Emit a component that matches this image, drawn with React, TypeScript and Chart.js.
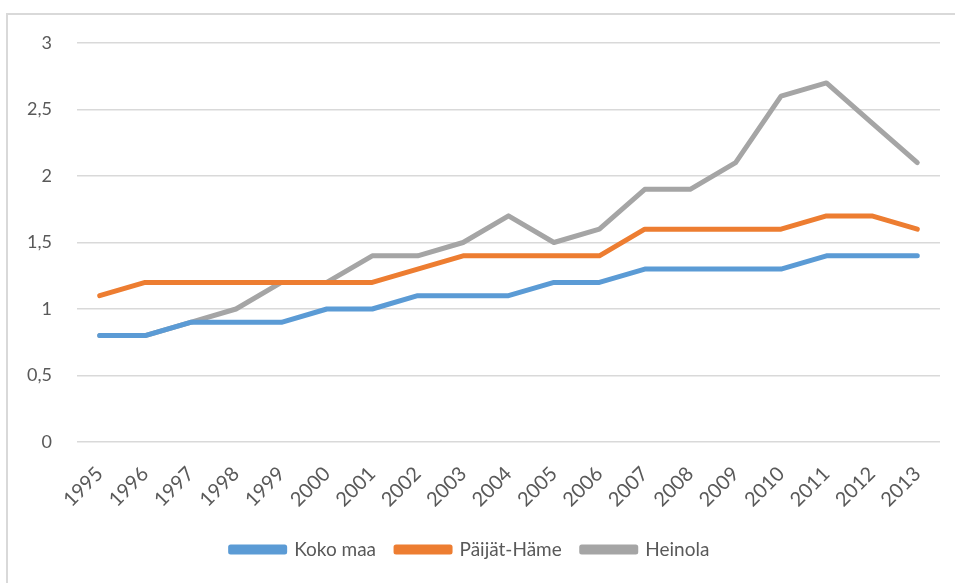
import React, { useEffect, useRef } from "react";
import { Chart, registerables } from "chart.js";

Chart.register(...registerables);

const years = ["1995","1996","1997","1998","1999","2000","2001","2002","2003","2004","2005","2006","2007","2008","2009","2010","2011","2012","2013"];
const kokoMaa = [0.8,0.8,0.9,0.9,0.9,1.0,1.0,1.1,1.1,1.1,1.2,1.2,1.3,1.3,1.3,1.3,1.4,1.4,1.4];
const paijatHame = [1.1,1.2,1.2,1.2,1.2,1.2,1.2,1.3,1.4,1.4,1.4,1.4,1.6,1.6,1.6,1.6,1.7,1.7,1.6];
const heinola = [0.8,0.8,0.9,1.0,1.2,1.2,1.4,1.4,1.5,1.7,1.5,1.6,1.9,1.9,2.1,2.6,2.7,2.4,2.1];
const seriesNames = ["Koko maa","Päijät-Häme","Heinola"];
const colors = ["#5B9BD5","#ED7D31","#A5A5A5"];

const FONT = "Lato, 'Open Sans', sans-serif";

export default function App() {
  const ref = useRef<HTMLCanvasElement | null>(null);
  useEffect(() => {
    document.body.style.margin = "0";
    const ctx = ref.current!;
    const mk = (label: string, data: number[], c: string) => ({
      label, data, borderColor: c, backgroundColor: c, borderWidth: 5,
      pointRadius: 0, borderCapStyle: "round" as const, borderJoinStyle: "round" as const,
      tension: 0,
    });
    const chart = new Chart(ctx, {
      type: "line",
      data: {
        labels: years,
        datasets: [
          mk(seriesNames[0], kokoMaa, colors[0]),
          mk(seriesNames[1], paijatHame, colors[1]),
          mk(seriesNames[2], heinola, colors[2]),
        ],
      },
      options: {
        animation: false,
        responsive: false,
        layout: { padding: { top: 43, right: 15, left: 0, bottom: 14 } },
        plugins: {
          tooltip: { enabled: false },
          legend: {
            position: "bottom",
            labels: {
              boxWidth: 54, boxHeight: 5, color: "#595959",
              font: { family: FONT, size: 19 }, padding: 20,
            },
          },
        },
        scales: {
          x: {
            offset: true,
            grid: { display: false },
            border: { display: false },
            ticks: {
              color: "#595959", font: { family: FONT, size: 20 },
              maxRotation: 45, minRotation: 45, autoSkip: false, padding: 12,
            },
            afterFit: (s: any) => { s.height = 78; },
          },
          y: {
            min: 0, max: 3,
            grid: { color: "#d9d9d9", lineWidth: 1.5, drawTicks: false },
            border: { display: false },
            ticks: {
              stepSize: 0.5, color: "#595959", font: { family: FONT, size: 18 }, padding: 25,
              callback: (v: any) => String(v).replace(".", ","),
            },
            afterFit: (s: any) => { s.width = 77; },
          },
        },
      },
    });
    return () => chart.destroy();
  }, []);
  return (
    <div style={{ position: "relative", width: 955, height: 583, overflow: "hidden" }}>
      <div style={{ position: "absolute", left: 6, top: 13, width: 1000, height: 700, border: "2px solid #d9d9d9", boxSizing: "border-box" }} />
      <canvas ref={ref} width={955} height={583} style={{ position: "absolute", left: 0, top: 0 }} />
    </div>
  );
}
